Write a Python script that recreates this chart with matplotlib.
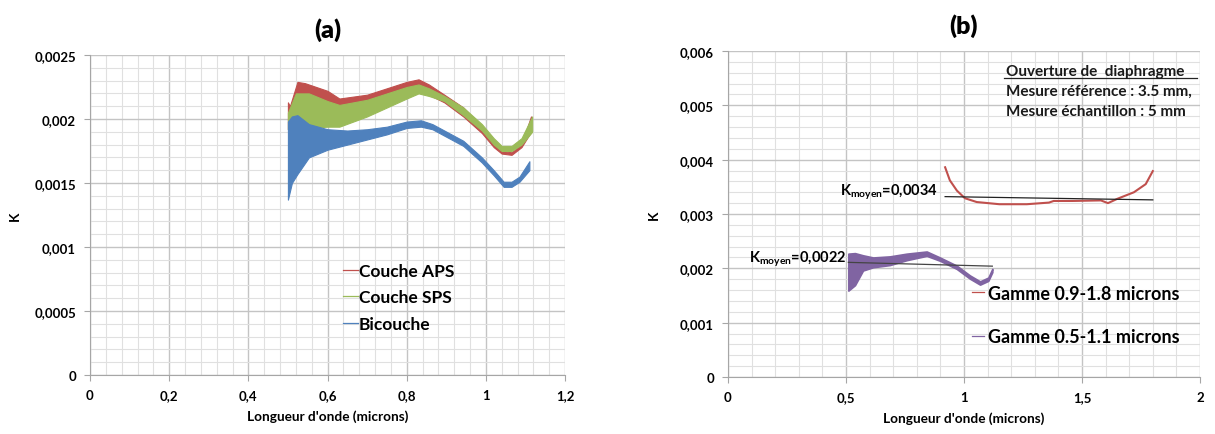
import matplotlib
matplotlib.use("Agg")
import matplotlib.pyplot as plt
from matplotlib.ticker import MultipleLocator

plt.rcParams['font.family'] = ['Lato', 'DejaVu Sans']

# ---------------- Panel (a) data (band envelopes) ----------------
aps_x = [0.50, 0.505, 0.524, 0.543, 0.60, 0.63, 0.70, 0.75, 0.80, 0.83, 0.856, 0.895, 0.943, 0.99, 1.02, 1.04, 1.065, 1.09, 1.114]
aps_hi = [0.00213, 0.00210, 0.00229, 0.00228, 0.00222, 0.00216, 0.00219, 0.00224, 0.00229, 0.00231, 0.00227, 0.00219, 0.00209, 0.00194, 0.00183, 0.00175, 0.00174, 0.00180, 0.00202]
aps_lo = [0.00192, 0.00190, 0.00205, 0.00210, 0.00208, 0.00206, 0.00210, 0.00215, 0.00220, 0.00222, 0.00219, 0.00213, 0.00202, 0.00189, 0.00178, 0.00173, 0.00172, 0.00178, 0.00190]

sps_x = [0.50, 0.52, 0.553, 0.60, 0.63, 0.70, 0.75, 0.80, 0.83, 0.856, 0.895, 0.943, 0.99, 1.02, 1.04, 1.065, 1.09, 1.117]
sps_hi = [0.00205, 0.00220, 0.00220, 0.00214, 0.00211, 0.00215, 0.00220, 0.00225, 0.00227, 0.00224, 0.00218, 0.00209, 0.00196, 0.00185, 0.00179, 0.00179, 0.00185, 0.00202]
sps_lo = [0.00192, 0.00188, 0.00193, 0.00194, 0.00194, 0.00202, 0.00209, 0.00216, 0.00220, 0.00218, 0.00214, 0.00203, 0.00191, 0.00180, 0.00175, 0.00175, 0.00180, 0.00190]

bic_x = [0.50, 0.51, 0.524, 0.553, 0.60, 0.65, 0.70, 0.75, 0.80, 0.836, 0.865, 0.895, 0.943, 0.99, 1.02, 1.045, 1.065, 1.085, 1.11]
bic_hi = [0.00198, 0.00202, 0.00203, 0.00196, 0.00192, 0.00191, 0.00192, 0.00194, 0.00198, 0.00199, 0.00196, 0.00191, 0.00183, 0.00170, 0.00160, 0.00151, 0.00151, 0.00155, 0.00167]
bic_lo = [0.00137, 0.00150, 0.00157, 0.00170, 0.00176, 0.00180, 0.00184, 0.00188, 0.00193, 0.00194, 0.00192, 0.00187, 0.00179, 0.00166, 0.00156, 0.00147, 0.00147, 0.00151, 0.00160]

labels_a = ["Couche APS", "Couche SPS", "Bicouche"]
xticks_a = [0, 0.2, 0.4, 0.6, 0.8, 1.0, 1.2]
xticklabels_a = ["0", "0,2", "0,4", "0,6", "0,8", "1", "1,2"]
yticks_a = [0, 0.0005, 0.001, 0.0015, 0.002, 0.0025]
yticklabels_a = ["0", "0,0005", "0,001", "0,0015", "0,002", "0,0025"]

# ---------------- Panel (b) data ----------------
g1_x = [0.92, 0.94, 0.97, 1.004, 1.054, 1.15, 1.266, 1.36, 1.38, 1.41, 1.46, 1.58, 1.61, 1.65, 1.72, 1.77, 1.80]
g1_y = [0.00386, 0.00362, 0.00343, 0.00329, 0.00322, 0.00318, 0.00318, 0.00321, 0.00324, 0.00324, 0.00324, 0.00325, 0.00320, 0.00328, 0.00340, 0.00355, 0.00379]

g2_x = [0.51, 0.538, 0.572, 0.615, 0.686, 0.757, 0.842, 0.898, 0.969, 1.025, 1.068, 1.103, 1.12]
g2_hi = [0.00227, 0.00228, 0.00224, 0.00220, 0.00222, 0.00227, 0.00231, 0.00220, 0.00205, 0.00187, 0.00176, 0.00183, 0.00199]
g2_lo = [0.00159, 0.00169, 0.00196, 0.00202, 0.00206, 0.00215, 0.00223, 0.00214, 0.00199, 0.00181, 0.00170, 0.00177, 0.00193]

mean1_x = [0.92, 1.80]
mean1_y = [0.00332, 0.00326]
mean2_x = [0.51, 1.12]
mean2_y = [0.00211, 0.00204]

labels_b = ["Gamme 0.9-1.8 microns", "Gamme 0.5-1.1 microns"]
xticks_b = [0, 0.5, 1.0, 1.5, 2.0]
xticklabels_b = ["0", "0,5", "1", "1,5", "2"]
yticks_b = [0, 0.001, 0.002, 0.003, 0.004, 0.005, 0.006]
yticklabels_b = ["0", "0,001", "0,002", "0,003", "0,004", "0,005", "0,006"]

RED = "#C0504D"
GREEN = "#9BBB59"
BLUE = "#4F81BD"
PURPLE = "#8064A2"

fig = plt.figure(figsize=(12.15, 4.35), dpi=100)
axa = fig.add_axes([90/1215, 1-376/435, (565-90)/1215, (376-56)/435])
axb = fig.add_axes([728/1215, 1-378/435, (1200-728)/1215, (378-52)/435])


def style(ax, xmin, xmax, ymin, ymax, xminor, yminor, xt, xtl, yt, ytl):
    ax.set_xlim(xmin, xmax)
    ax.set_ylim(ymin, ymax)
    ax.set_xticks(xt)
    ax.set_xticklabels(xtl)
    ax.set_yticks(yt)
    ax.set_yticklabels(ytl)
    ax.xaxis.set_minor_locator(MultipleLocator(xminor))
    ax.yaxis.set_minor_locator(MultipleLocator(yminor))
    ax.grid(which='major', color='#C4C4C4', lw=1.0, zorder=0)
    ax.grid(which='minor', color='#E0E0E0', lw=0.8, zorder=0)
    ax.set_axisbelow(True)
    for s in ['top', 'right']:
        ax.spines[s].set_visible(False)
    for s in ['left', 'bottom']:
        ax.spines[s].set_color('#A6A6A6')
    ax.tick_params(which='major', length=4, color='#A6A6A6', labelsize=9.5, pad=6)
    ax.tick_params(which='minor', length=0)
    for lab in ax.get_xticklabels() + ax.get_yticklabels():
        lab.set_fontweight('bold')
    ax.set_xlabel("Longueur d'onde (microns)", fontsize=9.8, fontweight='bold', labelpad=6)
    ax.set_ylabel("K", fontsize=9.8, fontweight='bold')


style(axa, 0, 1.2, 0, 0.0025, 0.04, 0.0001, xticks_a, xticklabels_a, yticks_a, yticklabels_a)
axa.yaxis.set_label_coords(-0.145, 0.5)

axa.fill_between(aps_x, aps_lo, aps_hi, color=RED, lw=0.8, zorder=2)
axa.fill_between(sps_x, sps_lo, sps_hi, color=GREEN, lw=0.8, zorder=3)
axa.fill_between(bic_x, bic_lo, bic_hi, color=BLUE, lw=0.8, zorder=4)
ha = [plt.Line2D([], [], color=c, lw=0.9) for c in (RED, GREEN, BLUE)]
axa.legend(ha, labels_a, loc='upper left', bbox_to_anchor=(0.50, 0.40),
           frameon=False, handlelength=0.85, handletextpad=0.05,
           labelspacing=0.62, prop={'size': 12.5, 'weight': 'bold'})
axa.set_title("(a)", fontsize=18, fontweight='heavy', pad=13)

style(axb, 0, 2, 0, 0.006, 0.1, 0.0002, xticks_b, xticklabels_b, yticks_b, yticklabels_b)
axb.yaxis.set_label_coords(-0.145, 0.5)
axb.plot(g1_x, g1_y, color=RED, lw=1.5, zorder=3)
axb.fill_between(g2_x, g2_lo, g2_hi, color=PURPLE, lw=1.2, zorder=3)
axb.plot(mean1_x, mean1_y, color='#222222', lw=0.9, zorder=4)
axb.plot(mean2_x, mean2_y, color='#444444', lw=0.9, zorder=4)
axb.text(0.887, 0.00342, r"K$_{\mathregular{moyen}}$=0,0034", ha='right', va='center',
         fontsize=10.5, fontweight='bold')
axb.text(0.50, 0.00218, r"K$_{\mathregular{moyen}}$=0,0022", ha='right', va='center',
         fontsize=10.5, fontweight='bold')
hb = [plt.Line2D([], [], color=c, lw=0.9) for c in (RED, PURPLE)]
axb.legend(hb, labels_b, loc='upper left', bbox_to_anchor=(0.482, 0.333),
           frameon=False, handlelength=0.7, handletextpad=0.2,
           labelspacing=1.45, prop={'size': 13, 'weight': 'bold'})
axb.text(0.589, 0.939, "Ouverture de  diaphragme", transform=axb.transAxes,
         fontsize=11, fontweight='bold', va='center', ha='left', color='#1a1a1a')
axb.plot([0.584, 0.994], [0.917, 0.917], transform=axb.transAxes, color='#222222', lw=0.9, clip_on=False)
axb.text(0.589, 0.877, "Mesure référence : 3.5 mm,", transform=axb.transAxes,
         fontsize=11, fontweight='bold', va='center', ha='left', color='#1a1a1a')
axb.text(0.589, 0.816, "Mesure échantillon : 5 mm", transform=axb.transAxes,
         fontsize=11, fontweight='bold', va='center', ha='left', color='#1a1a1a')
axb.set_title("(b)", fontsize=18, fontweight='heavy', pad=13)

fig.savefig("out.png", dpi=100)
